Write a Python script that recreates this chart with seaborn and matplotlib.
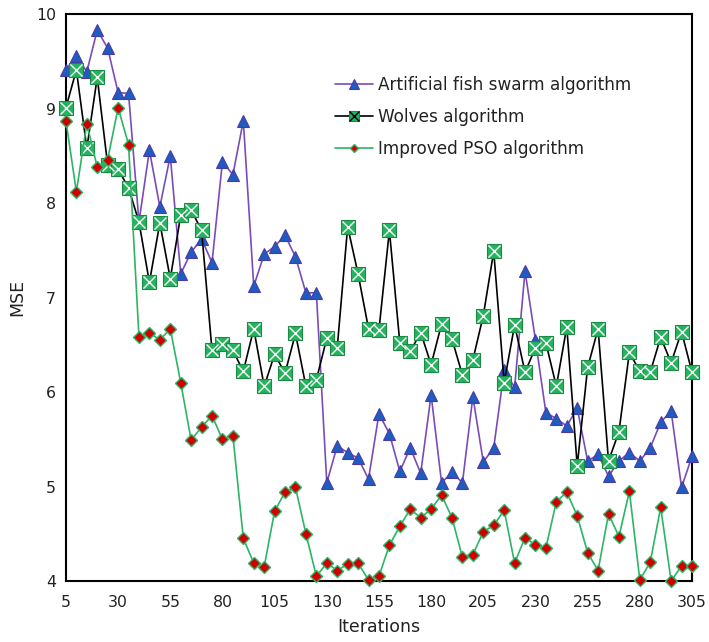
import matplotlib
matplotlib.use('Agg')
import matplotlib.pyplot as plt
import seaborn as sns
from matplotlib.lines import Line2D
from matplotlib.legend_handler import HandlerTuple

# MSE per iteration
iterations = list(range(5, 306, 5))

fish = [9.41, 9.56, 9.39, 9.83, 9.64, 9.17, 9.16, 7.80, 8.56, 7.96,
        8.50, 7.25, 7.48, 7.62, 7.37, 8.44, 8.30, 8.87, 7.12, 7.46,
        7.54, 7.66, 7.43, 7.05, 7.05, 5.04, 5.43, 5.36, 5.30, 5.08,
        5.77, 5.56, 5.16, 5.41, 5.14, 5.97, 5.04, 5.15, 5.04, 5.95,
        5.26, 5.41, 6.23, 6.05, 7.28, 6.55, 5.78, 5.72, 5.64, 5.83,
        5.27, 5.34, 5.11, 5.27, 5.36, 5.27, 5.41, 5.68, 5.80, 4.99,
        5.32]

wolves = [9.01, 9.41, 8.58, 9.33, 8.40, 8.36, 8.16, 7.80, 7.16, 7.79,
          7.20, 7.87, 7.93, 7.71, 6.44, 6.51, 6.44, 6.22, 6.67, 6.06,
          6.40, 6.20, 6.62, 6.06, 6.13, 6.57, 6.47, 7.75, 7.25, 6.67,
          6.66, 7.71, 6.52, 6.43, 6.63, 6.29, 6.72, 6.56, 6.18, 6.34,
          6.81, 7.49, 6.10, 6.71, 6.21, 6.47, 6.52, 6.06, 6.69, 5.22,
          6.26, 6.67, 5.27, 5.58, 6.42, 6.22, 6.21, 6.58, 6.31, 6.64,
          6.21]

pso = [8.87, 8.12, 8.84, 8.38, 8.46, 9.01, 8.62, 6.58, 6.63, 6.55,
       6.67, 6.10, 5.49, 5.63, 5.75, 5.50, 5.54, 4.45, 4.19, 4.15,
       4.74, 4.94, 4.99, 4.50, 4.05, 4.19, 4.11, 4.18, 4.19, 4.01,
       4.05, 4.38, 4.58, 4.76, 4.67, 4.76, 4.91, 4.67, 4.25, 4.28,
       4.52, 4.59, 4.75, 4.19, 4.46, 4.38, 4.35, 4.84, 4.94, 4.69,
       4.30, 4.11, 4.71, 4.47, 4.95, 4.01, 4.20, 4.78, 4.00, 4.16,
       4.16]

labels = ['Artificial fish swarm algorithm', 'Wolves algorithm', 'Improved PSO algorithm']
xticks = list(range(5, 306, 25))
yticks = [4, 5, 6, 7, 8, 9, 10]

sns.set_style('white')
plt.rcParams['font.family'] = ['DejaVu Sans']

fig = plt.figure(figsize=(7.09, 6.42), dpi=100)
ax = fig.add_axes([0.093, 0.095, 0.883, 0.883])

fish_style = dict(color='#7a4cb8', marker='^', markersize=9, markerfacecolor='#1f5cbf',
                  markeredgecolor='#4b3aa6', markeredgewidth=0.8, linewidth=1.2)
wolf_style = dict(color='black', marker='s', markersize=9.5, markerfacecolor='#25b35e',
                  markeredgecolor='#1a8a45', markeredgewidth=0.8, linewidth=1.2)
wolf_x = dict(color='black', marker='x', markersize=9.0, markeredgewidth=1.0, linestyle='')
pso_style = dict(color='#2bb565', marker='D', markersize=6, markerfacecolor='#d00000',
                 markeredgecolor='#2bb565', markeredgewidth=1.0, linewidth=1.2)

sns.lineplot(x=iterations, y=fish, ax=ax, clip_on=False, zorder=3, **fish_style)
sns.lineplot(x=iterations, y=wolves, ax=ax, clip_on=False, zorder=4, **wolf_style)
sns.lineplot(x=iterations, y=wolves, ax=ax, clip_on=False, zorder=5, **wolf_x)
sns.lineplot(x=iterations, y=pso, ax=ax, clip_on=False, zorder=6, **pso_style)

ax.set_xlim(5, 305)
ax.set_ylim(4, 10)
ax.set_xticks(xticks)
ax.set_yticks(yticks)
ax.tick_params(direction='in', length=4, width=1, labelsize=11.3, colors='#222222')
ax.tick_params(axis='y', pad=7)
ax.tick_params(axis='x', pad=10)
for s in ax.spines.values():
    s.set_color('black')
    s.set_linewidth(1.5)

ax.set_xlabel('Iterations', fontsize=12.5, color='#222222', labelpad=6)
ax.set_ylabel('MSE', fontsize=12.5, color='#222222', labelpad=7)

h_fish = Line2D([], [], **fish_style)
h_wolf = (Line2D([], [], **wolf_style), Line2D([], [], **wolf_x))
h_pso = Line2D([], [], **pso_style)
ax.legend([h_fish, h_wolf, h_pso], labels, handler_map={tuple: HandlerTuple(ndivide=1)},
          loc='upper left', bbox_to_anchor=(0.406, 0.917), frameon=False, fontsize=12.2,
          markerscale=0.75, handlelength=2.25, handletextpad=0.25, labelspacing=0.8,
          labelcolor='#222222')

plt.savefig('out.png', dpi=100)
